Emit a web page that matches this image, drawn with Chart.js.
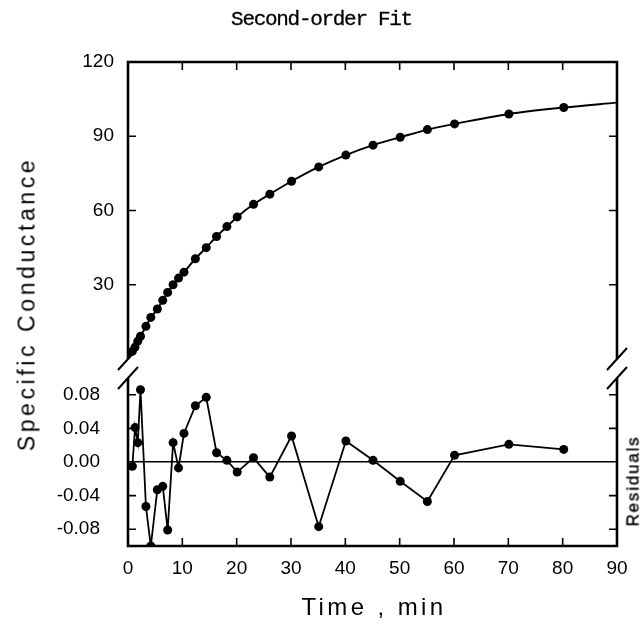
<!DOCTYPE html>
<html>
<head>
<meta charset="utf-8">
<script src="https://cdn.jsdelivr.net/npm/chart.js@4.4.1/dist/chart.umd.min.js"></script>
<style>
  html, body { margin: 0; padding: 0; background: #fff; }
  #wrap { position: relative; width: 643px; height: 626px; overflow: hidden; }
  canvas { position: absolute; left: 0; top: 0; }
  .lbl { position: absolute; white-space: nowrap; color: #000; font-family: "Liberation Sans", Arial, sans-serif; line-height: 1; }
  #title { left: 0; width: 643px; top: 9px; text-align: center; font-family: "Liberation Mono", "DejaVu Sans Mono", monospace; font-size: 21px; letter-spacing: -1.3px; -webkit-text-stroke: 0.3px #000; }
  #ytitle { left: 27px; top: 304px; transform: translate(-50%, -50%) rotate(-90deg); font-size: 23px; letter-spacing: 3.6px; }
  #rtitle { left: 633px; top: 481px; transform: translate(-50%, -50%) rotate(-90deg); font-size: 17px; letter-spacing: 1.8px; -webkit-text-stroke: 0.4px #000; }
  #xtitle { left: 374px; top: 607px; transform: translate(-50%, -50%); font-size: 24px; letter-spacing: 3.4px; }
</style>
</head>
<body>
<div id="wrap">
  <canvas id="topChart" width="643" height="626"></canvas>
  <canvas id="botChart" width="643" height="626"></canvas>
  <div class="lbl" id="title">Second-order Fit</div>
  <div class="lbl" id="ytitle">Specific Conductance</div>
  <div class="lbl" id="rtitle">Residuals</div>
  <div class="lbl" id="xtitle">Time , min</div>
</div>
<script>
// measured points (time in min)
const times = [0.8, 1.3, 1.8, 2.3, 3.3, 4.2, 5.4, 6.4, 7.3, 8.3, 9.3, 10.3, 12.4, 14.4,
               16.3, 18.2, 20.1, 23.1, 26.1, 30.1, 35.1, 40.1, 45.1, 50.1, 55.1, 60.1, 70.1, 80.2];
const conductance = [3.1, 4.8, 7.2, 9.2, 13.2, 16.8, 20.2, 23.7, 26.9, 30.0, 32.7, 35.1, 40.5, 45.0,
                     49.5, 53.5, 57.4, 62.5, 66.6, 71.8, 77.6, 82.4, 86.4, 89.6, 92.7, 95.0, 99.0, 101.6];
const residuals = [-0.005, 0.041, 0.023, 0.086, -0.053, -0.100, -0.033, -0.029, -0.081, 0.023, -0.007, 0.034, 0.067, 0.077,
                   0.011, 0.002, -0.012, 0.005, -0.018, 0.031, -0.077, 0.025, 0.002, -0.023, -0.047, 0.008, 0.021, 0.015];

// fitted curve: starts near the origin, runs through the points, ends at the right edge
const fitStart = [0.1, 0.8];
const fitEnd = [90, 103.6];

const xTicks = [0, 10, 20, 30, 40, 50, 60, 70, 80, 90];
const topTicks = [30, 60, 90, 120];
const resTicks = [-0.08, -0.04, 0.00, 0.04, 0.08];

const tickFont = { family: 'Liberation Sans', size: 19 };

const toXY = (xs, ys) => xs.map((t, i) => ({ x: t, y: ys[i] }));

const fitData = [{ x: fitStart[0], y: fitStart[1] }]
  .concat(toXY(times, conductance))
  .concat([{ x: fitEnd[0], y: fitEnd[1] }]);

// frame with inward ticks and the // break marks
const framePlugin = {
  id: 'frame',
  afterDatasetsDraw(chart, args, opts) {
    const { ctx, chartArea: a, scales: { x, y } } = chart;
    const openBottom = opts.open === 'bottom';
    ctx.save();
    ctx.strokeStyle = '#000';
    ctx.lineWidth = 2.6;
    ctx.beginPath();
    if (openBottom) {
      ctx.moveTo(a.left, a.bottom); ctx.lineTo(a.left, a.top);
      ctx.lineTo(a.right, a.top); ctx.lineTo(a.right, a.bottom);
    } else {
      ctx.moveTo(a.left, a.top); ctx.lineTo(a.left, a.bottom);
      ctx.lineTo(a.right, a.bottom); ctx.lineTo(a.right, a.top);
    }
    ctx.stroke();

    ctx.lineWidth = 1.6;
    ctx.beginPath();
    const edge = openBottom ? a.top : a.bottom;
    const dir = openBottom ? 1 : -1;
    xTicks.forEach(v => {
      if (v <= x.min || v >= x.max) return;
      const px = x.getPixelForValue(v);
      ctx.moveTo(px, edge); ctx.lineTo(px, edge + dir * 8);
    });
    opts.yTicks.forEach(v => {
      if (v <= y.min || v >= y.max || v === 0) return;
      const py = y.getPixelForValue(v);
      ctx.moveTo(a.left, py); ctx.lineTo(a.left + 8, py);
      ctx.moveTo(a.right - 8, py); ctx.lineTo(a.right, py);
    });
    ctx.stroke();

    ctx.lineWidth = 2;
    ctx.beginPath();
    const by = openBottom ? a.bottom : a.top;
    [a.left, a.right].forEach(bx => {
      ctx.moveTo(bx - 10, by + 11); ctx.lineTo(bx + 10, by - 11);
    });
    ctx.stroke();
    ctx.restore();
  }
};

const baseOpts = {
  responsive: false,
  animation: false,
  devicePixelRatio: 1,
  plugins: { legend: { display: false }, tooltip: { enabled: false } }
};

new Chart(document.getElementById('topChart'), {
  type: 'scatter',
  data: {
    datasets: [
      { data: fitData, showLine: true, pointRadius: 0, borderColor: '#000', borderWidth: 1.9,
        cubicInterpolationMode: 'monotone' },
      { data: toXY(times, conductance), showLine: false, pointRadius: 4.5,
        backgroundColor: '#000', borderColor: '#000', borderWidth: 0 }
    ]
  },
  options: {
    ...baseOpts,
    layout: { padding: { left: 0, top: 62, right: 26, bottom: 267 } },
    plugins: { ...baseOpts.plugins, frame: { open: 'bottom', yTicks: topTicks } },
    scales: {
      x: {
        type: 'linear', min: 0, max: 90,
        afterBuildTicks: s => { s.ticks = xTicks.map(v => ({ value: v })); },
        ticks: { display: false },
        grid: { display: false, drawTicks: false },
        border: { display: false },
        afterFit: s => { s.height = 0; }
      },
      y: {
        min: 0, max: 120,
        afterBuildTicks: s => { s.ticks = topTicks.map(v => ({ value: v })); },
        ticks: { padding: 14, color: '#000', font: tickFont },
        grid: { display: false, drawTicks: false },
        border: { display: false },
        afterFit: s => { s.width = 128; }
      }
    }
  },
  plugins: [framePlugin]
});

new Chart(document.getElementById('botChart'), {
  type: 'scatter',
  data: {
    datasets: [
      { data: toXY(times, residuals), showLine: true, pointRadius: 4.5,
        backgroundColor: '#000', borderColor: '#000', borderWidth: 1.8, pointBorderWidth: 0 }
    ]
  },
  options: {
    ...baseOpts,
    layout: { padding: { left: 0, top: 378, right: 26, bottom: 40 } },
    plugins: { ...baseOpts.plugins, frame: { open: 'top', yTicks: resTicks } },
    scales: {
      x: {
        type: 'linear', min: 0, max: 90,
        afterBuildTicks: s => { s.ticks = xTicks.map(v => ({ value: v })); },
        ticks: { padding: 11, color: '#000', font: tickFont, maxRotation: 0 },
        grid: { display: false, drawTicks: false },
        border: { display: false },
        afterFit: s => { s.height = 40; }
      },
      y: {
        min: -0.1, max: 0.1,
        afterBuildTicks: s => { s.ticks = resTicks.map(v => ({ value: v })); },
        ticks: { padding: 28, color: '#000', font: tickFont, callback: v => v.toFixed(2) },
        grid: {
          drawTicks: false,
          lineWidth: 1.5,
          color: c => (c.tick && c.tick.value === 0 ? '#000' : 'rgba(0,0,0,0)')
        },
        border: { display: false },
        afterFit: s => { s.width = 128; }
      }
    }
  },
  plugins: [framePlugin]
});
</script>
</body>
</html>
